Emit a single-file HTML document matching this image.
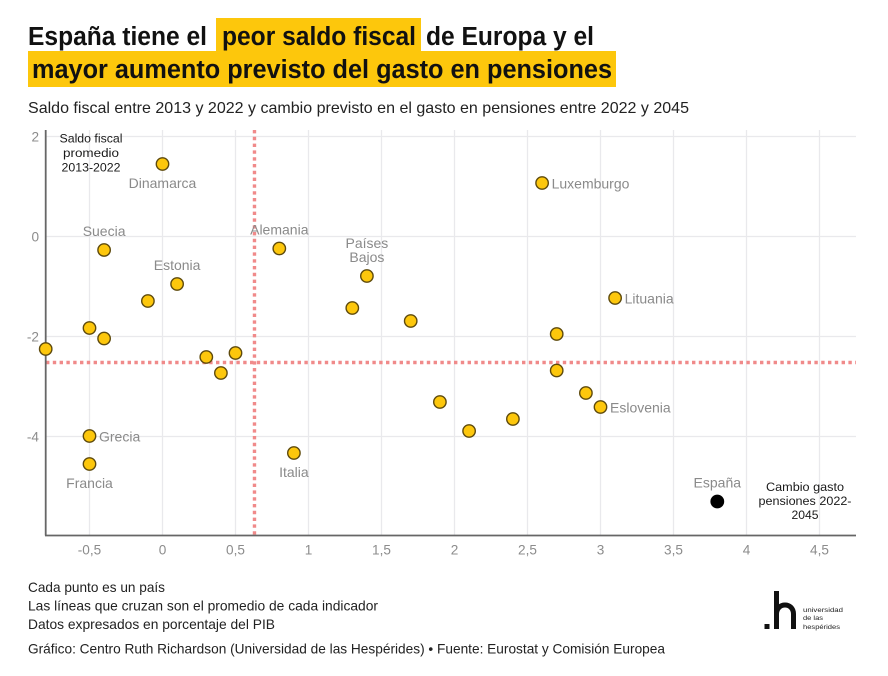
<!DOCTYPE html>
<html lang="es">
<head>
<meta charset="utf-8">
<title>Saldo fiscal y gasto en pensiones</title>
<style>
html,body{margin:0;padding:0;background:#fff;width:888px;height:676px;overflow:hidden}
svg{display:block}
text{font-family:"Liberation Sans","DejaVu Sans",sans-serif}
.t{font-size:25.5px;font-weight:700;fill:#111}
.f{font-size:13.8px;fill:#222}
.tick{font-size:13.6px;fill:#8c8c8c}
.lab{font-size:14px;fill:#8a8a8a}
.note{font-size:12.4px;fill:#1a1a1a}
</style>
</head>
<body>
<svg id="chart" width="888" height="676" viewBox="0 0 888 676" xmlns="http://www.w3.org/2000/svg">
<rect x="216" y="18" width="205" height="36" fill="#fdc70c"/>
<rect x="28" y="51" width="588" height="36" fill="#fdc70c"/>
<text class="t" x="28" y="45" textLength="179" lengthAdjust="spacingAndGlyphs">España tiene el</text>
<text class="t" x="222" y="45" textLength="194" lengthAdjust="spacingAndGlyphs">peor saldo fiscal</text>
<text class="t" x="426" y="45" textLength="168" lengthAdjust="spacingAndGlyphs">de Europa y el</text>
<text class="t" x="32" y="78" textLength="580" lengthAdjust="spacingAndGlyphs">mayor aumento previsto del gasto en pensiones</text>
<text x="28" y="113" font-size="16" fill="#222" textLength="661" lengthAdjust="spacingAndGlyphs">Saldo fiscal entre 2013 y 2022 y cambio previsto en el gasto en pensiones entre 2022 y 2045</text>

<g id="grid"></g>
<g id="ticks"></g>
<g id="avg"></g>
<line x1="45.7" y1="130" x2="45.7" y2="535.5" stroke="#666" stroke-width="1.8"/>
<line x1="45" y1="535.5" x2="856" y2="535.5" stroke="#666" stroke-width="1.8"/>
<g id="points"></g>
<g id="labels"></g>

<g text-anchor="middle">
<text class="note" x="91" y="142.5" textLength="63" lengthAdjust="spacingAndGlyphs">Saldo fiscal</text>
<text class="note" x="91" y="157" textLength="56" lengthAdjust="spacingAndGlyphs">promedio</text>
<text class="note" x="91" y="171.5" textLength="59" lengthAdjust="spacingAndGlyphs">2013-2022</text>
</g>
<g text-anchor="middle">
<text class="note" x="805" y="491" textLength="78" lengthAdjust="spacingAndGlyphs">Cambio gasto</text>
<text class="note" x="805" y="505" textLength="93" lengthAdjust="spacingAndGlyphs">pensiones 2022-</text>
<text class="note" x="805" y="519" textLength="27" lengthAdjust="spacingAndGlyphs">2045</text>
</g>

<text class="f" x="28" y="592" textLength="137" lengthAdjust="spacingAndGlyphs">Cada punto es un país</text>
<text class="f" x="28" y="610.5" textLength="350" lengthAdjust="spacingAndGlyphs">Las líneas que cruzan son el promedio de cada indicador</text>
<text class="f" x="28" y="629" textLength="247" lengthAdjust="spacingAndGlyphs">Datos expresados en porcentaje del PIB</text>
<text class="f" x="28" y="653.5" textLength="637" lengthAdjust="spacingAndGlyphs">Gráfico: Centro Ruth Richardson (Universidad de las Hespérides) • Fuente: Eurostat y Comisión Europea</text>

<g>
<rect x="764.5" y="624" width="5" height="5" fill="#111"/>
<rect x="774" y="591" width="5" height="38" fill="#111"/>
<path d="M776.5 614 C776.5 602 793.5 602 793.5 614 L793.5 629" fill="none" stroke="#111" stroke-width="5"/>
<text x="803" y="612" font-size="6.8" fill="#222" textLength="40" lengthAdjust="spacingAndGlyphs">universidad</text>
<text x="803" y="620" font-size="6.8" fill="#222" textLength="20" lengthAdjust="spacingAndGlyphs">de las</text>
<text x="803" y="629" font-size="6.8" fill="#222" textLength="37" lengthAdjust="spacingAndGlyphs">hespérides</text>
</g>
</svg>
<script>
var xTicks = [-0.5, 0, 0.5, 1, 1.5, 2, 2.5, 3, 3.5, 4, 4.5];
var yTicks = [2, 0, -2, -4];
var pensionChange = [0, 2.6, -0.4, 0.8, 1.4, 0.1, 3.1, -0.1, 1.3, 1.7, -0.5, -0.4, 2.7, -0.8, 0.3, 0.5, 0.4, 2.7, 2.9, 3.0, 1.9, 2.4, 2.1, -0.5, -0.5, 0.9, 3.8];
var fiscalBalance = [1.45, 1.07, -0.27, -0.24, -0.79, -0.95, -1.23, -1.29, -1.43, -1.69, -1.83, -2.04, -1.95, -2.25, -2.41, -2.33, -2.73, -2.68, -3.13, -3.41, -3.31, -3.65, -3.89, -3.99, -4.55, -4.33, -5.3];
var countries = ["Dinamarca", "Luxemburgo", "Suecia", "Alemania", "Países Bajos", "Estonia", "Lituania", "", "", "", "", "", "", "", "", "", "", "", "", "Eslovenia", "", "", "", "Grecia", "Francia", "Italia", "España"];
var labelSides = ["below", "right", "above", "above", "above", "above", "right", "", "", "", "", "", "", "", "", "", "", "", "", "right", "", "", "", "right", "below", "below", "above"];
var highlighted = ["España"];
var meanPensionChange = 0.63;
var meanFiscalBalance = -2.52;

var NS = 'http://www.w3.org/2000/svg';
function sx(v) { return 162.5 + v * 146; }
function sy(v) { return 236.5 - v * 50; }
function fmt(v) { return String(v).replace('.', ','); }
function mk(parent, tag, attrs) {
  var el = document.createElementNS(NS, tag);
  for (var k in attrs) el.setAttribute(k, attrs[k]);
  parent.appendChild(el);
  return el;
}
var grid = document.getElementById('grid');
var ticks = document.getElementById('ticks');
var avg = document.getElementById('avg');
var points = document.getElementById('points');
var labels = document.getElementById('labels');

xTicks.forEach(function (v) {
  var g = mk(grid, 'line', {x1: sx(v), x2: sx(v), y1: 130, y2: 535, stroke: '#e9e9ec', 'stroke-width': 1.3});
  
  
  var t = mk(ticks, 'text', {x: sx(v), y: 554.5, 'text-anchor': 'middle', 'class': 'tick'});
  
  
  t.textContent = fmt(v);
});
yTicks.forEach(function (v) {
  var g = mk(grid, 'line', {x1: 45, x2: 856, y1: sy(v), y2: sy(v), stroke: '#e9e9ec', 'stroke-width': 1.3});
  
  
  var t = mk(ticks, 'text', {x: 39, y: sy(v) + 5, 'text-anchor': 'end', 'class': 'tick'});
  
  
  t.textContent = fmt(v);
});

var vAvg = mk(avg, 'line', {x1: sx(meanPensionChange), x2: sx(meanPensionChange), y1: 130, y2: 535, stroke: '#f08a8a', 'stroke-width': 3.4, 'stroke-dasharray': '3.4 3.4'});


var hAvg = mk(avg, 'line', {x1: 46, x2: 856, y1: sy(meanFiscalBalance), y2: sy(meanFiscalBalance), stroke: '#f08a8a', 'stroke-width': 3.4, 'stroke-dasharray': '3.4 3.4'});



pensionChange.forEach(function (v, i) {
  var dark = highlighted.indexOf(countries[i]) >= 0;
  var c = mk(points, 'circle', {cx: sx(v), cy: sy(fiscalBalance[i]), r: 6.2, fill: dark ? '#000' : '#fdc70c', stroke: dark ? '#000' : '#5e4a0c', 'stroke-width': 1.4});
  
  
  var name = countries[i];
  if (!name) return;
  var px = sx(v), py = sy(fiscalBalance[i]);
  var side = labelSides[i];
  var lines = name === 'Países Bajos' ? ['Países', 'Bajos'] : [name];
  lines.forEach(function (line, j) {
    var attrs = {'class': 'lab'};
    if (side === 'right') {
      attrs.x = px + 9.5; attrs.y = py + 5.5; attrs['text-anchor'] = 'start';
    } else if (side === 'below') {
      attrs.x = px; attrs.y = py + 24; attrs['text-anchor'] = 'middle';
    } else {
      attrs.x = px; attrs.y = py - 14 - (lines.length - 1 - j) * 14; attrs['text-anchor'] = 'middle';
    }
    var t = mk(labels, 'text', attrs);
    
    
    t.textContent = line;
  });
});
</script>
</body>
</html>
